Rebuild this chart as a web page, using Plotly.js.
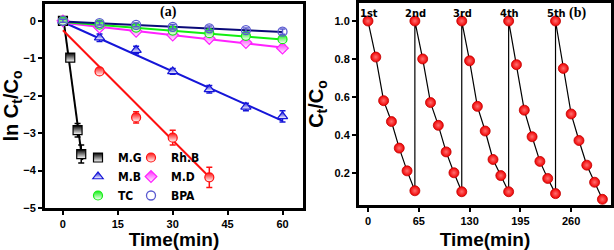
<!DOCTYPE html>
<html><head><meta charset="utf-8">
<script src="https://cdn.plot.ly/plotly-3.0.1.min.js"></script>
<style>html,body{margin:0;padding:0;background:#fff}#chart{width:614px;height:250px}</style>
</head><body><div id="chart"></div>
<script>
// ---- Panel (a): ln(Ct/C0) vs time ----
const tMG = [0, 2, 4, 5];
const yMG = [0, -0.98, -2.92, -3.56];
const eMG = [0.05, 0.1, 0.18, 0.24];
const tRhB = [0, 10, 20, 30, 40];
const yRhB = [0, -1.35, -2.58, -3.12, -4.18];
const eRhB = [0.05, 0.08, 0.15, 0.2, 0.27];
const tSix = [0, 10, 20, 30, 40, 50, 60];
const yMB = [0, -0.45, -0.78, -1.35, -1.83, -2.3, -2.55];
const eMB = [0.05, 0.1, 0.1, 0.08, 0.1, 0.1, 0.15];
const yMD = [0, -0.17, -0.28, -0.38, -0.47, -0.58, -0.73];
const eMD = [0.04, 0.06, 0.06, 0.07, 0.07, 0.07, 0.08];
const yTC = [0, -0.1, -0.18, -0.26, -0.33, -0.4, -0.49];
const eTC = [0.04, 0.05, 0.05, 0.06, 0.06, 0.06, 0.07];
const yBPA = [0, -0.06, -0.11, -0.16, -0.2, -0.25, -0.29];
const eBPA = [0.04, 0.05, 0.05, 0.06, 0.06, 0.06, 0.07];
// linear fit end points
const fitMGx = [0, 5.3], fitMGy = [0.15, -3.72];
const fitRhBx = [0, 40], fitRhBy = [-0.25, -4.17];
const fitLongX = [0, 60];
const fitMBy = [-0.03, -2.67];
const fitMDy = [-0.05, -0.71];
const fitTCy = [-0.03, -0.5];
const fitBPAy = [-0.02, -0.3];
const xTicksA = [0, 15, 30, 45, 60];
const yTicksA = [0, -1, -2, -3, -4, -5];

// ---- Panel (b): recycling, Ct/C0 vs time ----
const tCycle = [0,10,20,30,40,50,60, 60,70,80,90,100,110,120, 120,130,140,150,160,170,180,
                180,190,200,210,220,230,240, 240,250,260,270,280,290,300];
const cCycle = [1.0,0.81,0.58,0.47,0.33,0.21,0.105,
                1.0,0.80,0.57,0.45,0.31,0.20,0.10,
                1.0,0.79,0.55,0.42,0.27,0.185,0.10,
                1.0,0.77,0.53,0.39,0.26,0.17,0.09,
                1.0,0.75,0.51,0.37,0.24,0.15,0.06];
const cycleStarts = [0, 60, 120, 180, 240];
const cycleLabels = ['1st', '2nd', '3rd', '4th', '5th'];
const xTicksB = [0, 65, 130, 195, 260];
const yTicksB = [0.2, 0.4, 0.6, 0.8, 1.0];

const narrow = 'DejaVu Sans Condensed, Liberation Sans, Arial, sans-serif';
const sans = 'Liberation Sans, Arial, sans-serif';
const tickFont = {family: sans, size: 11, color: '#000', weight: 'bold'};
const titleFont = {family: sans, size: 19, color: '#000', weight: 'bold'};

function pts(name, x, y, e, color, symbol, legend, opts) {
  opts = opts || {};
  return {
    type: 'scatter', mode: 'markers', name: name, x: x, y: y, xaxis: 'x', yaxis: 'y', legend: legend,
    marker: Object.assign({symbol: symbol, size: 9, color: color,
      gradient: {type: 'vertical', color: '#ffffff'},
      line: {color: color, width: 1.2}}, opts.marker || {}),
    error_y: {type: 'data', array: e, visible: true, color: color, thickness: 1.5, width: 3}
  };
}
function fit(x, y, color) {
  return {type: 'scatter', mode: 'lines', x: x, y: y, xaxis: 'x', yaxis: 'y', showlegend: false,
    hoverinfo: 'skip', line: {color: color, width: 2}};
}

const traces = [
  fit(fitMGx, fitMGy, '#000000'),
  fit(fitRhBx, fitRhBy, '#ff1010'),
  fit(fitLongX, fitMBy, '#1515d8'),
  fit(fitLongX, fitMDy, '#ff22ff'),
  fit(fitLongX, fitTCy, '#11ee11'),
  fit(fitLongX, fitBPAy, '#0a0a78'),
  pts('M.G', tMG, yMG, eMG, '#000000', 'square', 'legend'),
  pts('Rh.B', tRhB, yRhB, eRhB, '#ff1010', 'circle', 'legend2'),
  pts('M.B', tSix, yMB, eMB, '#1515d8', 'triangle-up', 'legend'),
  pts('M.D', tSix, yMD, eMD, '#ff22ff', 'diamond', 'legend2'),
  pts('TC', tSix, yTC, eTC, '#11ee11', 'circle', 'legend'),
  pts('BPA', tSix, yBPA, eBPA, '#5a5ad0', 'circle-open', 'legend2', {marker: {symbol: 'circle-open', gradient: {type: 'none'}, line: {color: '#5a5ad0', width: 1.3}}}),
  {type: 'scatter', mode: 'lines+markers', x: tCycle, y: cCycle, xaxis: 'x2', yaxis: 'y2', showlegend: false,
   line: {color: '#000', width: 1.2},
   marker: {symbol: 'circle', size: 10, color: '#f00000', gradient: {type: 'radial', color: '#ff7070'},
            line: {color: '#c00000', width: 0.8}}}
];

const annotations = cycleLabels.map((lab, i) => ({
  xref: 'x2', yref: 'paper', x: cycleStarts[i], y: 1 - 13/250, yanchor: 'middle', xanchor: 'center', xshift: 1,
  text: lab, showarrow: false, font: {family: narrow, size: 11, color: '#000', weight: 'bold'}
}));
annotations.push({xref: 'paper', yref: 'paper', x: 158/614, y: 1 - 12/250, yanchor: 'middle', text: '(a)', showarrow: false,
  font: {family: 'Liberation Serif, serif', size: 14, color: '#000', weight: 'bold'}});
annotations.push({xref: 'paper', yref: 'paper', x: 588/614, y: 1 - 13/250, yanchor: 'middle', text: '(b)', showarrow: false,
  font: {family: 'Liberation Serif, serif', size: 14, color: '#000', weight: 'bold'}});

const axisCommon = {showline: true, linewidth: 3, linecolor: '#000', mirror: true, ticks: 'outside',
  ticklen: 4, tickwidth: 2, tickcolor: '#000', showgrid: false, zeroline: false, tickfont: tickFont, fixedrange: true};

const legendCommon = {xanchor: 'left', yanchor: 'top', bgcolor: 'rgba(0,0,0,0)', borderwidth: 0,
  font: {family: narrow, size: 12, color: '#000', weight: 'bold'}, itemwidth: 30, tracegroupgap: 0};

const layout = {
  width: 614, height: 250, margin: {l: 0, r: 0, t: 0, b: 0},
  paper_bgcolor: '#fff', plot_bgcolor: '#fff', showlegend: true,
  xaxis: Object.assign({}, axisCommon, {domain: [45/614, 303/614], range: [-4.9, 65.6], tickvals: xTicksA,
    title: {text: 'Time(min)', font: titleFont, standoff: 8}, anchor: 'y'}),
  yaxis: Object.assign({}, axisCommon, {domain: [1 - 208/250, 1 - 4/250], range: [-5, 0.45], tickvals: yTicksA,
    title: {text: 'ln C<sub>t</sub>/C<sub>o</sub>', font: {family: sans, size: 20, color: '#000', weight: 'bold'}, standoff: 6}, anchor: 'x'}),
  xaxis2: Object.assign({}, axisCommon, {domain: [359/614, 611/614], range: [-11.5, 311], tickvals: xTicksB,
    title: {text: 'Time(min)', font: titleFont, standoff: 8}, anchor: 'y2'}),
  yaxis2: Object.assign({}, axisCommon, {domain: [1 - 205/250, 1 - 3/250], range: [0.03, 1.095], tickvals: yTicksB,
    tickformat: '.1f',
    title: {text: 'C<sub>t</sub>/C<sub>o</sub>', font: {family: sans, size: 20, color: '#000', weight: 'bold'}, standoff: 6}, anchor: 'x2'}),
  legend: Object.assign({}, legendCommon, {x: 78/614, y: 1 - 143/250}),
  legend2: Object.assign({}, legendCommon, {x: 131/614, y: 1 - 143/250}),
  annotations: annotations
};

Plotly.newPlot('chart', traces, layout, {staticPlot: true, displayModeBar: false});
</script></body></html>
